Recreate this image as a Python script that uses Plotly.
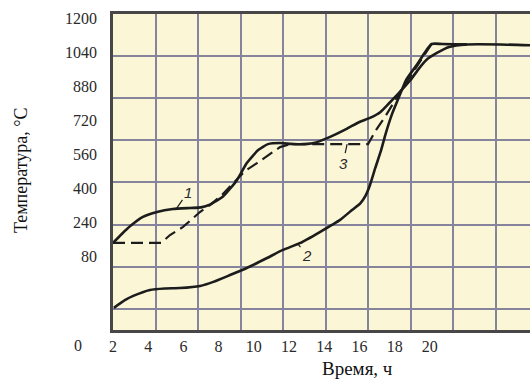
import plotly.graph_objects as go

# Heating schedules: time, h  /  temperature, °C
time_1 = [2.0, 2.5, 3.0, 3.7, 4.5, 5.4, 6.4, 7.0, 7.5, 8.25, 9.05, 9.6, 10.25, 10.8,
          11.5, 12.1, 12.6, 13.4, 14.3, 15.3, 16.0, 16.6, 17.2, 17.7, 18.3, 18.9,
          19.4, 19.8, 20.4, 21.1, 22.1, 24.0, 25.7]
temp_1 = [144, 186, 224, 266, 289, 303, 308, 311, 324, 362, 440, 519, 580, 608,
          613, 609, 607, 613, 641, 681, 712, 731, 759, 801, 853, 909,
          965, 1003, 1036, 1064, 1076, 1076, 1072]

time_2 = [2.05, 2.7, 3.15, 4.1, 4.95, 5.8, 6.95, 7.7, 8.65, 9.6, 10.75, 11.65, 12.65,
          13.75, 14.9, 15.6, 16.05, 16.35, 16.6, 16.9, 17.2, 17.5, 17.85, 18.2, 18.65,
          19.25, 20.1, 20.7, 22.1]
temp_2 = [-161, -124, -105, -77, -70, -68, -58, -39, -7, 26, 73, 111, 144,
          195, 252, 300, 330, 366, 416, 496, 571, 660, 749, 820, 909,
          979, 1078, 1078, 1076]

time_3 = [2.0, 4.73, 5.24, 5.98, 6.94, 7.51, 8.19, 8.82, 9.5, 10.18, 10.75, 11.49,
          12.06, 16.49, 16.94, 17.45, 18.31, 18.88, 19.44, 20.1, 20.7, 22.1]
temp_3 = [144, 144, 181, 219, 289, 322, 369, 425, 482, 519, 552, 594,
          608, 608, 674, 735, 853, 923, 994, 1078, 1078, 1076]

x_ticks = [2, 4, 6, 8, 10, 12, 14, 16, 18, 20]
y_ticks = [80, 240, 400, 560, 720, 880, 1040, 1200]

X_RANGE = [2, 25.69]
Y_RANGE = [-265, 1219]

INK = "#1c1c1c"
TEXT = "#2a2a2a"
GRID = "#86839c"
FRAME = "#474747"
PAPER_BG = "#fbf6d6"
SERIF = "Liberation Serif, Times New Roman, serif"

fig = go.Figure()

# background grid on its own (unlabelled) overlay axes
fig.add_trace(go.Scatter(x=[], y=[], xaxis="x2", yaxis="y2",
                         showlegend=False, hoverinfo="skip"))

fig.add_trace(go.Scatter(x=time_2, y=temp_2, mode="lines", name="2",
                         line=dict(color=INK, width=2.6, shape="spline", smoothing=0.5),
                         showlegend=False))
fig.add_trace(go.Scatter(x=time_3, y=temp_3, mode="lines", name="3",
                         line=dict(color=INK, width=2.2, dash="12px,6px"),
                         showlegend=False))
fig.add_trace(go.Scatter(x=time_1, y=temp_1, mode="lines", name="1",
                         line=dict(color=INK, width=2.6, shape="spline", smoothing=0.5),
                         showlegend=False))

# curve numbers with short leader lines
labels = [("1", 6.26, 383, 5.6, 305),
          ("2", 13.02, 87, 12.5, 140),
          ("3", 15.07, 519, 15.3, 608)]
for txt, tx, ty, px, py in labels:
    fig.add_annotation(x=px, y=py, xref="x", yref="y", ax=tx, ay=ty,
                       axref="x", ayref="y", text="<i>%s</i>" % txt,
                       showarrow=True, arrowhead=0, arrowwidth=1.2,
                       arrowcolor=INK, standoff=0,
                       font=dict(family="Liberation Sans, Arial, sans-serif",
                                 size=15, color=TEXT))

# origin label "0" on the time scale, left of the plotting field
x0_paper = (0 - X_RANGE[0]) / (X_RANGE[1] - X_RANGE[0])
fig.add_annotation(x=x0_paper, y=0, xref="paper", yref="paper", text="0",
                   showarrow=False, xanchor="center", yanchor="middle", yshift=-15,
                   font=dict(family=SERIF, size=16, color=TEXT))

# axis titles
fig.add_annotation(x=0.5875, y=0, xref="paper", yref="paper", text="Время, ч",
                   showarrow=False, xanchor="center", yanchor="middle", yshift=-38,
                   font=dict(family=SERIF, size=19, color="#111"))
fig.add_annotation(x=0, y=0.506, xref="paper", yref="paper",
                   text="Температура, °С", textangle=-90,
                   showarrow=False, xanchor="center", yanchor="middle", xshift=-92,
                   font=dict(family=SERIF, size=18, color="#111"))

fig.update_layout(
    width=530, height=379,
    margin=dict(l=113, r=0, t=14, b=49),
    paper_bgcolor="white",
    plot_bgcolor=PAPER_BG,
    xaxis=dict(range=X_RANGE, tickvals=x_ticks, showgrid=False, zeroline=False,
               showline=True, linecolor=FRAME, linewidth=2.5, ticks="",
               tickfont=dict(family=SERIF, size=16, color=TEXT)),
    yaxis=dict(range=Y_RANGE, tickvals=y_ticks, showgrid=False, zeroline=False,
               showline=True, linecolor=FRAME, linewidth=2.5,
               ticks="outside", ticklen=10, tickcolor="rgba(0,0,0,0)",
               tickfont=dict(family=SERIF, size=16, color=TEXT)),
    xaxis2=dict(overlaying="x", side="top", range=[0, 9.81], dtick=1, tick0=0,
                showgrid=True, gridcolor=GRID, gridwidth=1.5, zeroline=False,
                showticklabels=False, ticks="",
                showline=True, linecolor=FRAME, linewidth=2.5),
    yaxis2=dict(overlaying="y", side="right", range=[-7.506, 0], dtick=1, tick0=0,
                showgrid=True, gridcolor=GRID, gridwidth=1.5, zeroline=False,
                showticklabels=False, ticks="", showline=False),
)

fig.write_html("out.html")
